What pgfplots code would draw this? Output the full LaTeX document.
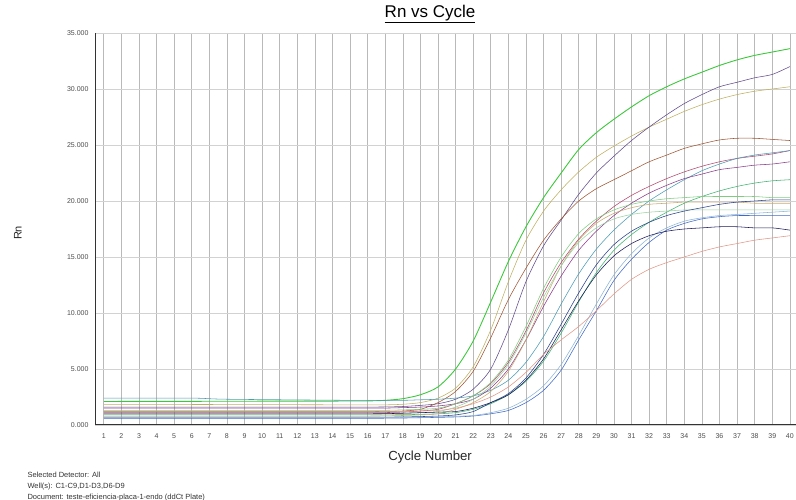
\documentclass[border=0pt]{standalone}
\usepackage{pgfplots}
\pgfplotsset{compat=1.18}
\usepackage{fontspec}
\setmainfont{Liberation Sans}
\definecolor{cGreen}{RGB}{60,200,60}
\definecolor{cOlive}{RGB}{190,175,95}
\definecolor{cPurple}{RGB}{95,75,140}
\definecolor{cBrown}{RGB}{160,85,50}
\definecolor{cMaroon}{RGB}{180,70,110}
\definecolor{cTeal}{RGB}{75,155,180}
\definecolor{cMagenta}{RGB}{140,60,140}
\definecolor{cMedGreen}{RGB}{60,180,110}
\definecolor{cLightGreen}{RGB}{125,205,125}
\definecolor{cTan}{RGB}{200,170,110}
\definecolor{cPaleGreen}{RGB}{150,210,160}
\definecolor{cNavy}{RGB}{40,65,140}
\definecolor{cBlue}{RGB}{65,105,200}
\definecolor{cLightBlue}{RGB}{140,180,215}
\definecolor{cDarkNavy}{RGB}{25,25,90}
\definecolor{cSalmon}{RGB}{225,150,135}
\begin{document}
\begin{tikzpicture}
\path[use as bounding box] (0,0) rectangle (796pt,500pt);
\begin{axis}[
  scale only axis,
  width=701pt, height=392pt,
  at={(95pt,75pt)}, anchor=south west,
  xmin=0.5, xmax=40.35, ymin=0, ymax=35000,
  axis x line*=bottom, axis y line*=left,
  axis line style={black!80, line width=1pt, -},
  xtick={1,...,40},
  ytick={0,5000,10000,15000,20000,25000,30000,35000},
  yticklabels={0.000,5.000,10.000,15.000,20.000,25.000,30.000,35.000},
  scaled y ticks=false,
  major tick length=0pt,
  grid=major,
  x grid style={gray!55, line width=0.6pt},
  y grid style={gray!35, line width=0.6pt},
  tick label style={font=\fontsize{7}{8}\selectfont, text=black!70},
  /pgf/number format/assume math mode=true,
  xticklabel style={yshift=-5pt},
  yticklabel style={xshift=-3pt},
  title={\underline{Rn vs Cycle}},
  title style={at={(axis description cs:0.478,1.033)}, anchor=center, font=\fontsize{17}{19}\selectfont},
  xlabel={Cycle Number},
  xlabel style={at={(axis description cs:0.478,-0.082)}, anchor=center, font=\fontsize{13.2}{15}\selectfont, text=black!85},
  ylabel={Rn},
  ylabel style={at={(axis description cs:-0.11,0.49)}, anchor=center, font=\fontsize{11}{12}\selectfont, text=black!85},
  every axis plot/.append style={line width=0.55pt, mark=none, smooth, tension=0.45},
  clip=true,
]
% green bright
\addplot[cGreen, line width=0.9pt] coordinates {(1,2100)(15,2140)(16,2150)(17,2200)(18,2350)(19,2700)(20,3400)(21,5000)(22,7500)(23,11000)(24,14600)(25,17700)(26,20300)(27,22500)(28,24600)(29,26100)(30,27300)(31,28400)(32,29400)(33,30200)(34,30900)(35,31500)(36,32100)(37,32600)(38,33000)(39,33300)(40,33600)};
% olive
\addplot[cOlive] coordinates {(1,1850)(15,1800)(16,1800)(17,1800)(18,1850)(19,2000)(20,2400)(21,3300)(22,5200)(23,8500)(24,12800)(25,16500)(26,19100)(27,21000)(28,22600)(29,23900)(30,24900)(31,25800)(32,26600)(33,27300)(34,28000)(35,28600)(36,29100)(37,29500)(38,29800)(39,30000)(40,30200)};
% purple
\addplot[cPurple] coordinates {(1,1600)(15,1600)(16,1600)(17,1610)(18,1650)(19,1750)(20,1900)(21,2300)(22,3200)(23,5000)(24,8500)(25,12800)(26,16000)(27,18300)(28,20600)(29,22500)(30,24000)(31,25400)(32,26600)(33,27700)(34,28700)(35,29500)(36,30200)(37,30600)(38,31000)(39,31300)(40,32000)};
% brown
\addplot[cBrown] coordinates {(1,1200)(15,1200)(16,1200)(17,1210)(18,1250)(19,1400)(20,2000)(21,3000)(22,4800)(23,7800)(24,11200)(25,14000)(26,16500)(27,18400)(28,20000)(29,21100)(30,21900)(31,22700)(32,23500)(33,24100)(34,24700)(35,25100)(36,25450)(37,25600)(38,25600)(39,25500)(40,25400)};
% maroon
\addplot[cMaroon] coordinates {(1,1100)(15,1100)(16,1100)(17,1110)(18,1150)(19,1250)(20,1400)(21,1900)(22,2600)(23,3700)(24,5600)(25,8400)(26,11800)(27,14500)(28,16600)(29,18200)(30,19500)(31,20500)(32,21300)(33,22000)(34,22600)(35,23100)(36,23500)(37,23800)(38,24000)(39,24200)(40,24500)};
% teal
\addplot[cTeal] coordinates {(1,2400)(6,2400)(8,2300)(15,2200)(16,2200)(17,2200)(18,2200)(19,2250)(20,2300)(21,2400)(22,2600)(23,3100)(24,4000)(25,5600)(26,7900)(27,10800)(28,13500)(29,15700)(30,17400)(31,18800)(32,20000)(33,21000)(34,21900)(35,22700)(36,23300)(37,23800)(38,24100)(39,24300)(40,24500)};
% magenta
\addplot[cMagenta] coordinates {(1,1500)(15,1500)(16,1500)(17,1510)(18,1550)(19,1600)(20,1700)(21,1900)(22,2300)(23,3300)(24,5000)(25,7600)(26,10600)(27,13300)(28,15600)(29,17300)(30,18700)(31,19800)(32,20700)(33,21400)(34,22000)(35,22400)(36,22800)(37,23000)(38,23200)(39,23300)(40,23500)};
% medium green
\addplot[cMedGreen] coordinates {(1,900)(15,900)(16,900)(17,905)(18,920)(19,950)(20,1000)(21,1100)(22,1400)(23,1900)(24,2700)(25,3900)(26,5700)(27,8200)(28,11000)(29,13600)(30,15600)(31,17000)(32,18100)(33,19000)(34,19800)(35,20400)(36,20900)(37,21300)(38,21600)(39,21800)(40,21900)};
% light green
\addplot[cLightGreen] coordinates {(1,1300)(15,1300)(16,1300)(17,1310)(18,1350)(19,1400)(20,1500)(21,1900)(22,2600)(23,3800)(24,5800)(25,8800)(26,12200)(27,15000)(28,17100)(29,18400)(30,19200)(31,19700)(32,20000)(33,20200)(34,20300)(35,20400)(36,20400)(37,20400)(38,20400)(39,20300)(40,20300)};
% tan
\addplot[cTan] coordinates {(1,800)(15,800)(16,800)(17,810)(18,850)(19,900)(20,1000)(21,1400)(22,2000)(23,3000)(24,4800)(25,7600)(26,11000)(27,14200)(28,16500)(29,18000)(30,18900)(31,19400)(32,19700)(33,19800)(34,19900)(35,19900)(36,19900)(37,19900)(38,19800)(39,19800)(40,19800)};
% pale green
\addplot[cPaleGreen] coordinates {(1,1000)(15,1000)(16,1000)(17,1010)(18,1050)(19,1100)(20,1200)(21,1600)(22,2300)(23,3500)(24,5400)(25,8200)(26,11400)(27,14200)(28,16300)(29,17600)(30,18400)(31,18800)(32,19000)(33,19100)(34,19200)(35,19200)(36,19200)(37,19200)(38,19200)(39,19200)(40,19200)};
% navy
\addplot[cNavy] coordinates {(1,700)(15,700)(16,700)(17,705)(18,720)(19,750)(20,800)(21,900)(22,1200)(23,2000)(24,2800)(25,4200)(26,6300)(27,9000)(28,11800)(29,14300)(30,16100)(31,17300)(32,18100)(33,18700)(34,19100)(35,19400)(36,19700)(37,19900)(38,20000)(39,20100)(40,20100)};
% blue
\addplot[cBlue] coordinates {(1,600)(15,600)(16,600)(17,605)(18,620)(19,650)(20,680)(21,720)(22,800)(23,1000)(24,1300)(25,2000)(26,3100)(27,4900)(28,7600)(29,10200)(30,12900)(31,14800)(32,16300)(33,17400)(34,18000)(35,18400)(36,18600)(37,18700)(38,18700)(39,18700)(40,18700)};
% light blue
\addplot[cLightBlue] coordinates {(1,650)(15,650)(16,650)(17,655)(18,670)(19,700)(20,730)(21,780)(22,850)(23,1100)(24,1500)(25,2300)(26,3500)(27,5400)(28,8000)(29,10800)(30,13400)(31,15300)(32,16700)(33,17600)(34,18200)(35,18500)(36,18700)(37,18800)(38,18900)(39,19000)(40,19100)};
% dark navy
\addplot[cDarkNavy] coordinates {(1,1000)(15,1000)(16,1000)(17,1010)(18,1050)(19,1100)(20,1150)(21,1200)(22,1500)(23,2000)(24,2700)(25,4000)(26,5900)(27,8500)(28,11100)(29,13400)(30,15100)(31,16200)(32,16900)(33,17300)(34,17500)(35,17600)(36,17700)(37,17700)(38,17600)(39,17600)(40,17400)};
% salmon
\addplot[cSalmon] coordinates {(1,1200)(15,1200)(16,1200)(17,1205)(18,1220)(19,1250)(20,1300)(21,1500)(22,1900)(23,2500)(24,3400)(25,4700)(26,6300)(27,7600)(28,8800)(29,10200)(30,11700)(31,13000)(32,13900)(33,14500)(34,15000)(35,15500)(36,15900)(37,16200)(38,16500)(39,16700)(40,16900)};
\end{axis}
\node[anchor=north west, align=left, font=\fontsize{7.5}{11}\selectfont, text=black!80] at (24pt,31pt) {Selected Detector: All\\Well(s): C1-C9,D1-D3,D6-D9\\Document: teste-eficiencia-placa-1-endo (ddCt Plate)};
\end{tikzpicture}
\end{document}
